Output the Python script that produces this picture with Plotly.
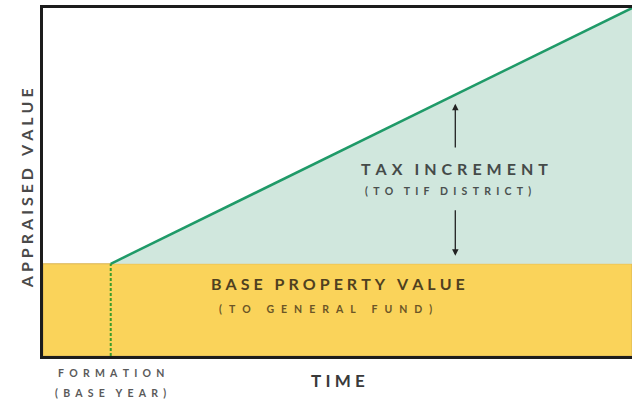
import plotly.graph_objects as go

# ---- data (schematic values) ----
time_range = [0, 10]            # time axis extent
formation_time = 1.15           # formation (base year)
end_time = 10
base_value = 26.5               # appraised value at formation
final_value = 100               # appraised value at end
value_range = [0, 100]

y_label = "APPRAISED VALUE"
x_label = "TIME"
formation_label = ["FORMATION", "(BASE YEAR)"]
increment_label = ["TAX INCREMENT", "(TO TIF DISTRICT)"]
base_label = ["BASE PROPERTY VALUE", "(TO GENERAL FUND)"]

FONT = "Lato, 'Open Sans', sans-serif"


def spaced(s, gap, wordgap):
    # widen letter spacing like the original poster-style lettering
    return wordgap.join(gap.join(w) for w in s.split(" "))


fig = go.Figure()

# base property value (yellow)
fig.add_trace(go.Scatter(
    x=[time_range[0], time_range[1], time_range[1], time_range[0], time_range[0]],
    y=[0, 0, base_value, base_value, 0],
    fill="toself", fillcolor="#fad35a", mode="lines",
    line=dict(color="#d9b455", width=1), hoverinfo="skip", showlegend=False))

# tax increment (mint)
fig.add_trace(go.Scatter(
    x=[formation_time, end_time, end_time, formation_time],
    y=[base_value, final_value, base_value, base_value],
    fill="toself", fillcolor="#d0e7dd", mode="lines",
    line=dict(width=0), hoverinfo="skip", showlegend=False))

# appraised value growth line
fig.add_trace(go.Scatter(
    x=[formation_time, end_time], y=[base_value, final_value],
    mode="lines", line=dict(color="#1f9a68", width=2.5),
    hoverinfo="skip", showlegend=False))

# formation dashed marker
fig.add_trace(go.Scatter(
    x=[formation_time, formation_time], y=[0, base_value],
    mode="lines", line=dict(color="#3c9b2c", width=2, dash="3px,2px"),
    hoverinfo="skip", showlegend=False))

arrow_x = 7.0
anns = []
# arrows
anns.append(dict(x=arrow_x, y=72.5, ax=arrow_x, ay=59.5, xref="x", yref="y",
                 axref="x", ayref="y", showarrow=True, arrowhead=2, arrowsize=1,
                 arrowwidth=1.3, arrowcolor="#222", text=""))
anns.append(dict(x=arrow_x, y=28.8, ax=arrow_x, ay=42.3, xref="x", yref="y",
                 axref="x", ayref="y", showarrow=True, arrowhead=2, arrowsize=1,
                 arrowwidth=1.3, arrowcolor="#222", text=""))
# region texts
anns.append(dict(x=6.99, y=54, xref="x", yref="y", showarrow=False,
                 text=spaced(increment_label[0], "\u2005\u200a", "\u2002\u2005"),
                 font=dict(family=FONT, size=16, color="#454b49", weight="bold")))
anns.append(dict(x=6.88, y=47.4, xref="x", yref="y", showarrow=False,
                 text=spaced(increment_label[1], "\u2002", "\u2002\u2002"),
                 font=dict(family=FONT, size=10.5, color="#4a504e", weight="bold")))
anns.append(dict(x=5.0, y=20.9, xref="x", yref="y", showarrow=False,
                 text=spaced(base_label[0], "\u2005", "\u2002\u2005"),
                 font=dict(family=FONT, size=16, color="#4f4020", weight="bold")))
anns.append(dict(x=4.8, y=13.4, xref="x", yref="y", showarrow=False,
                 text=spaced(base_label[1], "\u2002\u2006", "\u2002\u2002\u2002"),
                 font=dict(family=FONT, size=10.5, color="#6b5526", weight="bold")))
# axis labels
anns.append(dict(x=-0.029, y=0.482, xref="paper", yref="paper", xanchor="center",
                 showarrow=False, textangle=-90,
                 text=spaced(y_label, "\u2005", "\u2002\u2005"),
                 font=dict(family=FONT, size=16, color="#4a4a4a", weight="bold")))
anns.append(dict(x=formation_time, y=-0.048, xref="x", yref="paper",
                 yanchor="middle", showarrow=False,
                 text=spaced(formation_label[0], "\u2002", "\u2002\u2002"),
                 font=dict(family=FONT, size=10.5, color="#5a5a5a", weight="bold")))
anns.append(dict(x=formation_time, y=-0.105, xref="x", yref="paper",
                 yanchor="middle", showarrow=False,
                 text=spaced(formation_label[1], "\u2002", "\u2002\u2002"),
                 font=dict(family=FONT, size=10.5, color="#5a5a5a", weight="bold")))
anns.append(dict(x=5.0, y=-0.035, xref="x", yref="paper", yanchor="top",
                 showarrow=False, text=spaced(x_label, "\u2005", "\u2002"),
                 font=dict(family=FONT, size=17, color="#3a3a3a", weight="bold")))

fig.update_layout(
    width=637, height=402,
    margin=dict(l=43, r=5, t=6, b=46),
    paper_bgcolor="white", plot_bgcolor="white",
    annotations=anns,
    xaxis=dict(range=time_range, showgrid=False, zeroline=False,
               showticklabels=False, ticks="", showline=True, linewidth=3,
               linecolor="#1c1c1c", mirror=True),
    yaxis=dict(range=value_range, showgrid=False, zeroline=False,
               showticklabels=False, ticks="", showline=True, linewidth=3,
               linecolor="#1c1c1c"),
)

fig.write_html("out.html", config={"displayModeBar": False},
               post_script="document.body.style.margin='0';document.body.style.overflow='hidden';")
